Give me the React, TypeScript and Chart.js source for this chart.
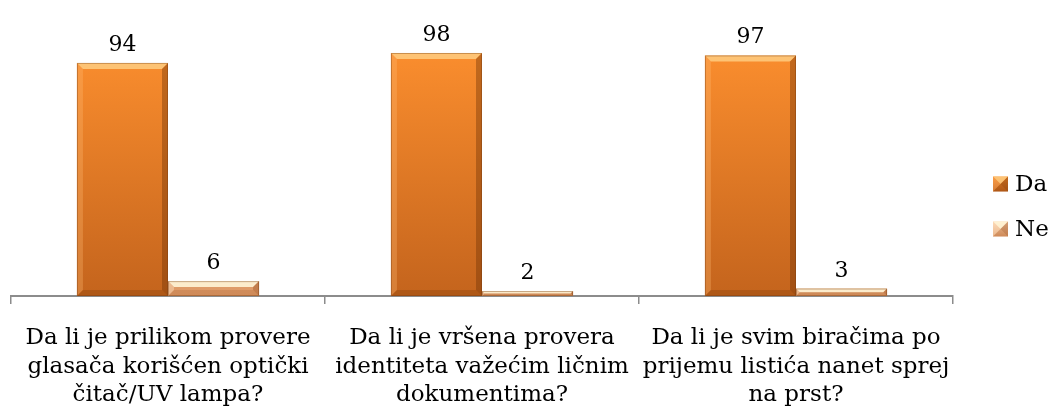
import React, { useEffect, useRef } from "react";
import { Chart, registerables } from "chart.js";

Chart.register(...registerables);

const categories: string[][] = [
  ["Da li je prilikom provere", "glasača korišćen optički", "čitač/UV lampa?"],
  ["Da li je vršena provera", "identiteta važećim ličnim", "dokumentima?"],
  ["Da li je svim biračima po", "prijemu listića nanet sprej", "na prst?"],
];
const seriesNames = ["Da", "Ne"];
const daValues = [94, 98, 97];
const neValues = [6, 2, 3];

const FONT = "'DejaVu Serif', Georgia, serif";

const palettes = [
  { top: "#FB8E2E", bottom: "#C4641D", light: "rgba(255,214,140,0.75)", dark: "rgba(110,50,5,0.4)", low: "rgba(110,50,5,0.25)", side: "rgba(255,190,120,0.3)" },
  { top: "#FBD3AE", bottom: "#DE9966", light: "rgba(255,245,215,0.9)", dark: "rgba(150,80,35,0.4)", low: "rgba(150,80,35,0.2)", side: "rgba(255,230,200,0.4)" },
];

function fillGrad(ctx: CanvasRenderingContext2D, y0: number, y1: number, p: any) {
  const g = ctx.createLinearGradient(0, y0, 0, y1);
  g.addColorStop(0, p.top);
  g.addColorStop(1, p.bottom);
  return g;
}

function drawBevel(ctx: CanvasRenderingContext2D, l: number, t: number, r: number, b: number, bv: number, p: any) {
  const tri = (pts: number[][], color: string) => {
    ctx.fillStyle = color;
    ctx.beginPath();
    ctx.moveTo(pts[0][0], pts[0][1]);
    for (let i = 1; i < pts.length; i++) ctx.lineTo(pts[i][0], pts[i][1]);
    ctx.closePath();
    ctx.fill();
  };
  tri([[l, t], [r, t], [r - bv, t + bv], [l + bv, t + bv]], p.light);
  tri([[l, t], [l + bv, t + bv], [l + bv, b - bv], [l, b]], p.side);
  tri([[r, t], [r - bv, t + bv], [r - bv, b - bv], [r, b]], p.dark);
  tri([[l, b], [l + bv, b - bv], [r - bv, b - bv], [r, b]], p.low);
}

const bevelPlugin = {
  id: "bevel",
  afterDatasetsDraw(chart: any) {
    const ctx = chart.ctx as CanvasRenderingContext2D;
    chart.data.datasets.forEach((ds: any, di: number) => {
      const meta = chart.getDatasetMeta(di);
      const p = palettes[di];
      meta.data.forEach((bar: any) => {
        const { x, y, base, width } = bar.getProps(["x", "y", "base", "width"], true);
        const l = x - width / 2;
        const r = x + width / 2;
        const h = base - y;
        const bv = Math.min(6, h / 2);
        ctx.save();
        drawBevel(ctx, l, y, r, base, bv, p);
        ctx.strokeStyle = "rgba(120,60,15,0.4)";
        ctx.lineWidth = 1;
        ctx.strokeRect(l + 0.5, y + 0.5, width - 1, h - 1);
        ctx.restore();
      });
    });
  },
};

const valueLabelPlugin = {
  id: "valueLabels",
  afterDatasetsDraw(chart: any) {
    const ctx = chart.ctx as CanvasRenderingContext2D;
    ctx.save();
    ctx.font = `22px ${FONT}`;
    ctx.fillStyle = "#000";
    ctx.textAlign = "center";
    ctx.textBaseline = "alphabetic";
    chart.data.datasets.forEach((ds: any, di: number) => {
      const meta = chart.getDatasetMeta(di);
      meta.data.forEach((bar: any, i: number) => {
        ctx.fillText(String(ds.data[i]), bar.x, bar.y - 12);
      });
    });
    ctx.restore();
  },
};

const legendPlugin = {
  id: "customLegend",
  afterDraw(chart: any) {
    const ctx = chart.ctx as CanvasRenderingContext2D;
    ctx.save();
    ctx.font = `23px ${FONT}`;
    ctx.textBaseline = "middle";
    const x0 = 993;
    const ys = [184, 229];
    chart.data.datasets.forEach((ds: any, di: number) => {
      const p = palettes[di];
      const y = ys[di];
      const s = 15;
      const bx = x0;
      const by = y - s / 2;
      ctx.fillStyle = fillGrad(ctx, by, by + s, p);
      ctx.fillRect(bx, by, s, s);
      drawBevel(ctx, bx, by, bx + s, by + s, s / 2, p);
      ctx.fillStyle = "#000";
      ctx.fillText(ds.label, bx + s + 7, y + 1);
    });
    ctx.restore();
  },
};

export default function App() {
  const ref = useRef<HTMLCanvasElement>(null);
  useEffect(() => {
    document.body.style.margin = "0";
    const canvas = ref.current!;
    const chart = new Chart(canvas, {
      type: "bar",
      data: {
        labels: categories,
        datasets: [daValues, neValues].map((vals, di) => ({
          label: seriesNames[di],
          data: vals,
          backgroundColor: (c: any) => {
            const area = c.chart.chartArea;
            if (!area) return palettes[di].top;
            return fillGrad(c.chart.ctx, area.top, area.bottom, palettes[di]);
          },
          borderWidth: 0,
          categoryPercentage: 0.58,
          barPercentage: 1,
        })),
      },
      options: {
        responsive: false,
        animation: false,
        layout: { padding: { left: 11, right: 96, top: 48, bottom: 0 } },
        plugins: {
          legend: { display: false },
          tooltip: { enabled: false },
        },
        scales: {
          x: {
            afterFit: (scale: any) => {
              scale.height = 114;
            },
            grid: {
              offset: true,
              drawOnChartArea: false,
              drawTicks: true,
              tickLength: 8,
              color: "#8c8c8c",
              lineWidth: 1.5,
            },
            border: { color: "#8c8c8c", width: 2 },
            ticks: {
              color: "#000",
              font: { family: FONT, size: 23, lineHeight: 1.24 },
              maxRotation: 0,
              autoSkip: false,
              padding: 20,
            },
          },
          y: {
            display: false,
            min: 0,
            max: 100,
          },
        },
      },
      plugins: [bevelPlugin, valueLabelPlugin, legendPlugin],
    });
    return () => chart.destroy();
  }, []);
  return <canvas ref={ref} width={1049} height={410} style={{ display: "block" }} />;
}
